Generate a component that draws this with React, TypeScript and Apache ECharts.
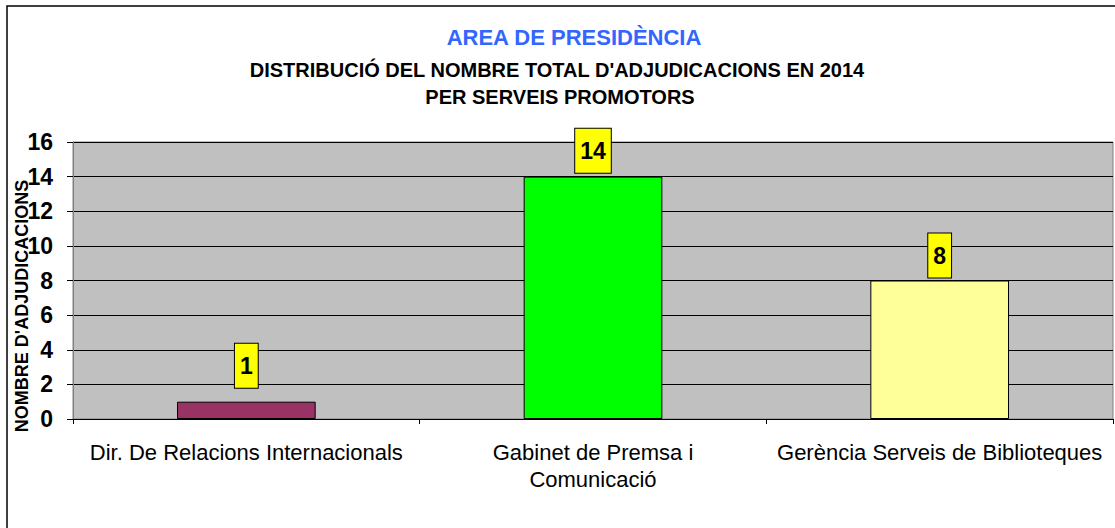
import React, { useEffect, useRef } from "react";
import * as echarts from "echarts";

const categories = [
  "Dir. De Relacions Internacionals",
  "Gabinet de Premsa i\nComunicació",
  "Gerència Serveis de Biblioteques",
];
const values = [1, 14, 8];
const barColors = ["#993366", "#00FF00", "#FFFF99"];
const labelDistances = [14, 4, 3];
const yTicks = { min: 0, max: 16, interval: 2 };
const titleMain = "AREA DE PRESIDÈNCIA";
const titleSubLines = [
  "DISTRIBUCIÓ DEL NOMBRE TOTAL D'ADJUDICACIONS EN 2014",
  "PER SERVEIS PROMOTORS",
];
const yAxisName = "NOMBRE D'ADJUDICACIONS";

export default function App() {
  const ref = useRef<HTMLDivElement>(null);
  useEffect(() => {
    if (!ref.current) return;
    const chart = echarts.init(ref.current, null, { renderer: "svg" });
    const font = "'Liberation Sans', Arial, sans-serif";
    chart.setOption({
      animation: false,
      backgroundColor: "#FFFFFF",
      graphic: [
        {
          type: "rect",
          shape: { x: 7, y: 6, width: 1130, height: 540 },
          style: { fill: "none", stroke: "#000", lineWidth: 1.5 },
          silent: true,
        },
        {
          type: "text",
          x: 574,
          y: 37,
          style: {
            text: titleMain,
            font: `bold 22px ${font}`,
            fill: "#3366FF",
            align: "center",
            verticalAlign: "middle",
          },
        },
        {
          type: "text",
          x: 557,
          y: 70,
          style: {
            text: titleSubLines[0],
            font: `bold 20px ${font}`,
            fill: "#000",
            align: "center",
            verticalAlign: "middle",
          },
        },
        {
          type: "text",
          x: 560,
          y: 97,
          style: {
            text: titleSubLines[1],
            font: `bold 20px ${font}`,
            fill: "#000",
            align: "center",
            verticalAlign: "middle",
          },
        },
        {
          type: "text",
          x: 22,
          y: 306,
          rotation: Math.PI / 2,
          style: {
            text: yAxisName,
            font: `bold 18px ${font}`,
            fill: "#000",
            align: "center",
            verticalAlign: "middle",
          },
        },
      ],
      grid: {
        left: 73,
        right: 2,
        top: 142,
        bottom: 109,
        show: true,
        backgroundColor: "#C0C0C0",
        borderColor: "#808080",
        borderWidth: 1,
        containLabel: false,
      },
      xAxis: {
        type: "category",
        data: categories,
        axisLine: { show: true, lineStyle: { color: "#000", width: 1 } },
        axisTick: { show: true, alignWithLabel: false, length: 5, lineStyle: { color: "#000" } },
        axisLabel: {
          color: "#000",
          fontSize: 22,
          fontFamily: font,
          margin: 20,
          lineHeight: 27,
          interval: 0,
        },
      },
      yAxis: {
        type: "value",
        min: yTicks.min,
        max: yTicks.max,
        interval: yTicks.interval,
        axisLine: { show: true, lineStyle: { color: "#808080" } },
        axisTick: { show: true, length: 6, lineStyle: { color: "#000" } },
        axisLabel: { color: "#000", fontSize: 23, fontWeight: "bold", fontFamily: font, margin: 20 },
        splitLine: { show: true, lineStyle: { color: "#000", width: 1 } },
      },
      series: [
        {
          type: "bar",
          barWidth: "40%",
          data: values.map((v, i) => ({
            value: v,
            itemStyle: { color: barColors[i], borderColor: "#000", borderWidth: 1 },
            label: { distance: labelDistances[i] },
          })),
          label: {
            show: true,
            position: "top",
            color: "#000",
            fontSize: 23,
            fontWeight: "bold",
            fontFamily: font,
            backgroundColor: "#FFFF00",
            borderColor: "#000",
            borderWidth: 1,
            padding: [11, 5, 10, 5],
            lineHeight: 23,
          },
        },
      ],
    });
    return () => chart.dispose();
  }, []);
  return (
    <div
      ref={ref}
      style={{ position: "fixed", left: 0, top: 0, width: 1115, height: 528 }}
    />
  );
}
